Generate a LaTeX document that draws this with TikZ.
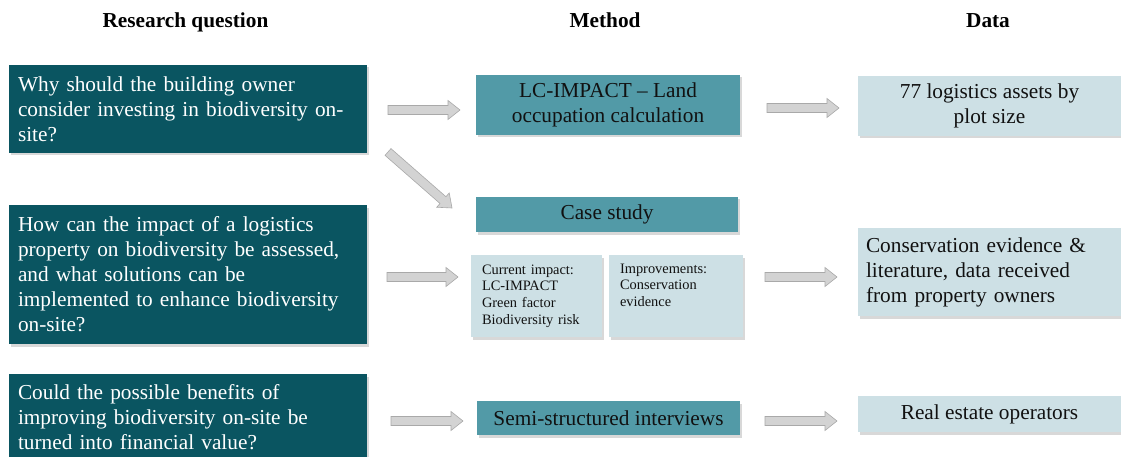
\documentclass[tikz,border=0pt]{standalone}
\usepackage{fontspec}
\setmainfont{Liberation Serif}
\usetikzlibrary{calc,shadows}
\definecolor{rqcol}{HTML}{0A5561}
\definecolor{mcol}{HTML}{529AA7}
\definecolor{dcol}{HTML}{CDE0E5}
\definecolor{afill}{HTML}{D3D3D3}
\definecolor{aedge}{HTML}{A9A9A9}
\definecolor{txt}{HTML}{111111}
\newcommand\fbody{\fontsize{21.3}{25}\selectfont}
\newcommand\fsmall{\fontsize{14.4}{16.7}\selectfont}
\newcommand\fhead{\fontsize{21.3}{25}\selectfont\bfseries}
\newcommand\blockarrow[2]{%
  \draw[barrow] let \p1=($(#2)-(#1)$), \n1={atan2(\y1,\x1)}, \n2={veclen(\x1,\y1)-12} in
   ($(#1)+(\n1+90:4.5pt)$) --
   ($(#1)+(\n1:\n2*1pt)+(\n1+90:4.5pt)$) --
   ($(#1)+(\n1:\n2*1pt)+(\n1+90:9.5pt)$) --
   (#2) --
   ($(#1)+(\n1:\n2*1pt)+(\n1-90:9.5pt)$) --
   ($(#1)+(\n1:\n2*1pt)+(\n1-90:4.5pt)$) --
   ($(#1)+(\n1-90:4.5pt)$) -- cycle;}
\begin{document}
\begin{tikzpicture}[x=1pt,y=-1pt,
  box/.style={draw=none, inner ysep=0pt, outer sep=0pt,
    drop shadow={shadow xshift=2pt, shadow yshift=-2.5pt, opacity=0.3}},
  rqbox/.style={box, fill=rqcol, text=white, align=left, font=\fbody,
    inner xsep=9pt, text width=340pt, minimum width=358pt},
  mbox/.style={box, fill=mcol, text=txt, align=center, font=\fbody,
    inner xsep=6pt, minimum width=264pt},
  dbox/.style={box, fill=dcol, text=txt, align=center, font=\fbody,
    inner xsep=6pt, minimum width=263pt},
  sbox/.style={box, fill=dcol, text=txt, align=left, font=\fsmall,
    inner xsep=11pt, minimum height=82pt},
  head/.style={font=\fhead, text=black, anchor=base},
  barrow/.style={fill=afill, draw=aedge, line width=0.6pt, line join=miter}
]
\clip (0,0) rectangle (1121,457);
\fill[white] (0,0) rectangle (1121,457);

% headers
\node[head] (h1) at (185.5,28) {Research question};
\node[head] (h2) at (605,28) {Method};
\node[head] (h3) at (988,28) {Data};

% research questions
\node[rqbox, minimum height=88pt] (rq1) at (188,109)
  {Why should the building owner\\consider investing in biodiversity on-\\site?};
\node[rqbox, minimum height=139pt] (rq2) at (188,274.5)
  {How can the impact of a logistics\\property on biodiversity be assessed,\\and what solutions can be\\implemented to enhance biodiversity\\on-site?};
\node[rqbox, minimum height=86pt] (rq3) at (188,417)
  {Could the possible benefits of\\improving biodiversity on-site be\\turned into financial value?};

% methods
\node[mbox, minimum height=60pt] (m1) at (608,105)
  {LC-IMPACT – Land\\occupation calculation};
\node[mbox, minimum width=262pt, minimum height=35pt] (cs) at (607,214.5) {Case study};
\node[sbox, text width=109pt] (s1) at (536.5,296)
  {Current impact:\\LC-IMPACT\\Green factor\\Biodiversity risk};
\node[sbox, text width=112pt] (s2) at (676,296)
  {Improvements:\\Conservation\\evidence\\\strut};
\node[mbox, minimum width=263pt, minimum height=34pt] (m3) at (608.5,418)
  {Semi-structured interviews};

% data
\node[dbox, minimum height=60pt] (d1) at (989.5,106)
  {77 logistics assets by\\plot size};
\node[dbox, minimum height=88pt, align=left, inner xsep=8pt, text width=247pt] (d2) at (989.5,272)
  {Conservation evidence \&\\literature, data received\\from property owners};
\node[dbox, minimum height=36pt] (d3) at (989.5,414) {Real estate operators};

% arrow end points
\coordinate (a1s) at ($(rq1.east)+(21,1)$);
\coordinate (a1e) at ($(m1.west)+(-16,5)$);
\coordinate (a2s) at ($(m1.east)+(27,3)$);
\coordinate (a2e) at ($(d1.west)+(-19,2)$);
\coordinate (a3s) at ($(rq1.south east)+(21,-1)$);
\coordinate (a3e) at ($(cs.north west)+(-24,11)$);
\coordinate (a4s) at ($(rq2.east)+(20,2.5)$);
\coordinate (a4e) at ($(s1.west)+(-13,-19)$);
\coordinate (a5s) at ($(s2.east)+(22,-19)$);
\coordinate (a5e) at ($(d2.west)+(-21,5)$);
\coordinate (a6s) at ($(rq3.east)+(24,4)$);
\coordinate (a6e) at ($(m3.west)+(-14,3)$);
\coordinate (a7s) at ($(m3.east)+(25,3)$);
\coordinate (a7e) at ($(d3.west)+(-21,7)$);

\blockarrow{a1s}{a1e}
\blockarrow{a2s}{a2e}
\blockarrow{a3s}{a3e}
\blockarrow{a4s}{a4e}
\blockarrow{a5s}{a5e}
\blockarrow{a6s}{a6e}
\blockarrow{a7s}{a7e}
\end{tikzpicture}
\end{document}
